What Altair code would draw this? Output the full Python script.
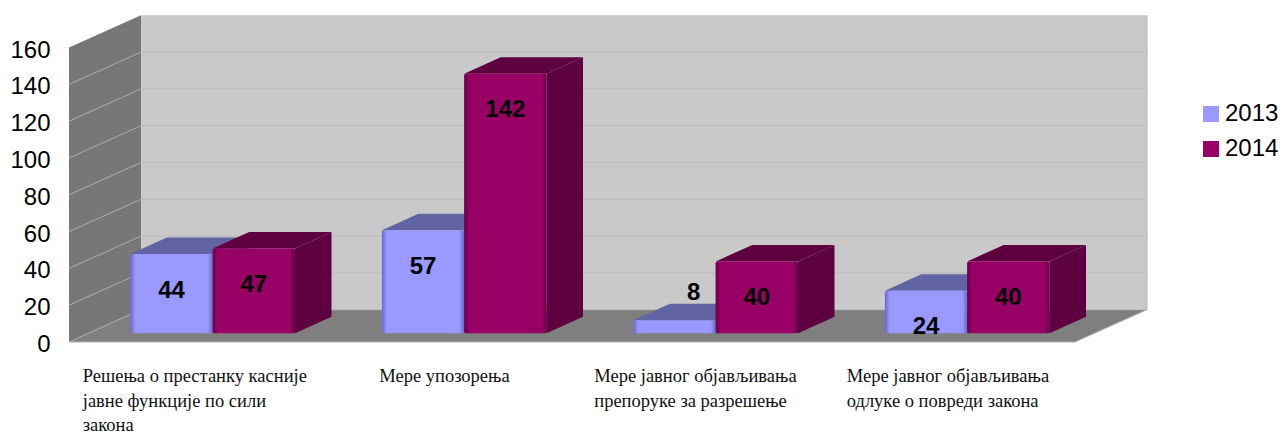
import altair as alt
import pandas as pd

# ---- data
categories = [
    "Решења о престанку касније\nјавне функције по сили\nзакона",
    "Мере упозорења",
    "Мере јавног објављивања\nпрепоруке за разрешење",
    "Мере јавног објављивања\nодлуке о повреди закона",
]
values_2013 = [44, 57, 8, 24]
values_2014 = [47, 142, 40, 40]
y_ticks = [0, 20, 40, 60, 80, 100, 120, 140, 160]
years = ["2013", "2014"]

# ---- colours
FRONT = {"2013": "#9999ff", "2014": "#990066"}
SHADE = {"2013": "#6263a3", "2014": "#5e0040"}
EDGE = {"2013": "70,70,170", "2014": "70,0,50"}

# ---- layout of the 3D box
PLOT_W, PLOT_H = 1078, 327
PX_CAT = 251.5                 # px per category along x
PX_VAL = 1.84                  # px per value along y
N = len(categories)
DX = 72 / PX_CAT               # floor depth, x component (category units)
DY = 32.3 / PX_VAL             # floor depth, y component (value units)
X_MAX = PLOT_W / PX_CAT
Y_MAX = PLOT_H / PX_VAL
BAR_L = 61.4 / PX_CAT
BAR_W = 82.3 / PX_CAT
BAR_DX = 36.5 / PX_CAT
BAR_DY = 16.5 / PX_VAL
BASE = 3.8                     # bar baseline raised by its place on the floor
FOOT = 4.7                     # visible bottom edge of the bars
LABEL_PX = [224, 134, 207, 205]  # width of each wrapped label block

rows_side, rows_top, fronts, texts = [], [], [], []
for i in range(N):
    for j, (yr, vals) in enumerate(zip(years, [values_2013, values_2014])):
        v = vals[i]
        left = i + BAR_L + j * BAR_W
        right = left + BAR_W
        top = v + BASE
        # top face
        for x, lo, hi in [(left, top, top), (left + BAR_DX, top, top + BAR_DY),
                          (right, top, top + BAR_DY), (right + BAR_DX, top + BAR_DY, top + BAR_DY)]:
            rows_top.append(dict(id=f"{i}-{yr}", year=yr, x=x, lo=lo, hi=hi))
        # side face
        for x, lo, hi in [(right, FOOT, top), (right + BAR_DX, FOOT + BAR_DY, top + BAR_DY)]:
            rows_side.append(dict(id=f"{i}-{yr}", year=yr, x=x, lo=lo, hi=hi))
        fronts.append(dict(year=yr, x=left, x2=right, lo=FOOT, hi=top))
        texts.append(dict(x=(left + right) / 2, y=top, t=str(v), low=v < 20))

top_df = pd.DataFrame(rows_top)
side_df = pd.DataFrame(rows_side)
front_df = pd.DataFrame(fronts)
text_df = pd.DataFrame(texts)

x_scale = alt.Scale(domain=[0, X_MAX], nice=False, zero=False)
y_scale = alt.Scale(domain=[0, Y_MAX], nice=False, zero=False)
# every layer carries the same axis so that Vega-Lite merges them into one
y_axis = alt.Axis(values=y_ticks, grid=False, domain=False, ticks=False, labelPadding=19,
                  labelOffset=2.5, labelFontSize=24, labelFont="Liberation Sans",
                  labelColor="#000000", title=None)
X = alt.X("x:Q", scale=x_scale, axis=None)
Y = alt.Y("hi:Q", scale=y_scale, axis=y_axis, title=None)
Y2 = alt.Y2("lo:Q")
Y_PLAIN = alt.Y("y:Q", scale=y_scale, axis=y_axis, title=None)


def area(df, fill):
    return alt.Chart(df).mark_area(orient="vertical", color=fill, opacity=1, strokeWidth=0).encode(
        x=X, y=Y, y2=Y2, detail="id:N")


# ---- box: back wall, left wall, floor
top_v = y_ticks[-1]
back = pd.DataFrame({"id": "b", "x": [DX, N + DX], "lo": [DY, DY], "hi": [top_v + DY, top_v + DY]})
wall = pd.DataFrame({"id": "w", "x": [0, DX], "lo": [0, DY], "hi": [top_v, top_v + DY]})
floor = pd.DataFrame({"id": "f", "x": [0, DX, N, N + DX], "lo": [0, 0, 0, DY], "hi": [0, DY, DY, DY]})

wall_rows, back_rows = [], []
for v in y_ticks[:-1]:
    for x, y in [(0, v), (DX, v + DY)]:
        wall_rows.append(dict(id=v, x=x, y=y))
    for x, y in [(DX, v + DY), (N + DX, v + DY)]:
        back_rows.append(dict(id=v, x=x, y=y))
grid_back = alt.Chart(pd.DataFrame(back_rows)).mark_line(color="#bababa", strokeWidth=1).encode(
    x=X, y=Y_PLAIN, detail="id:N")
grid_wall = alt.Chart(pd.DataFrame(wall_rows)).mark_line(color="#adadad", strokeWidth=1).encode(
    x=X, y=Y_PLAIN, detail="id:N")

outline_df = pd.DataFrame({
    "id": ["a", "a", "a", "a"],
    "x": [0, N, N + DX, N + DX],
    "y": [0, 0, DY, top_v + DY],
    "o": [0, 1, 2, 3],
})
outline = alt.Chart(outline_df).mark_line(color="#b4b4b4", strokeWidth=1).encode(
    x=X, y=Y_PLAIN, detail="id:N", order="o:Q")

# ---- bars
faces = []
for yr in years:
    faces.append(area(top_df[top_df.year == yr], SHADE[yr]))
    faces.append(area(side_df[side_df.year == yr], SHADE[yr]))

front = alt.Chart(front_df).mark_rect(cornerRadius=2, opacity=1).encode(
    x=X, x2="x2:Q", y=Y, y2=Y2,
    color=alt.Color("year:N", scale=alt.Scale(domain=years, range=[FRONT[y] for y in years]),
                    legend=alt.Legend(orient="none", legendX=1130, legendY=87, title=None,
                                      symbolType="square", symbolSize=256, symbolStrokeWidth=0,
                                      labelFontSize=24, labelFont="Liberation Sans", labelColor="#000000",
                                      rowPadding=11, labelOffset=2, symbolOpacity=1, labelLimit=200)),
)

glows = []
for yr in years:
    grad = alt.LinearGradient(gradient="linear", x1=0, x2=1, y1=0, y2=0, stops=[
        alt.GradientStop(color=f"rgba({EDGE[yr]},0.6)", offset=0),
        alt.GradientStop(color=f"rgba({EDGE[yr]},0)", offset=0.06),
        alt.GradientStop(color=f"rgba({EDGE[yr]},0)", offset=0.94),
        alt.GradientStop(color=f"rgba({EDGE[yr]},0.6)", offset=1),
    ])
    glows.append(alt.Chart(front_df[front_df.year == yr]).mark_rect(cornerRadius=2, fill=grad).encode(
        x=X, x2="x2:Q", y=Y, y2=Y2))

# ---- text
num_hi = alt.Chart(text_df[~text_df.low]).mark_text(
    font="Liberation Sans", fontSize=24, fontWeight="bold", color="#000000", dy=36.5, baseline="middle"
).encode(x=X, y=Y_PLAIN, text="t:N")
num_lo = alt.Chart(text_df[text_df.low]).mark_text(
    font="Liberation Sans", fontSize=24, fontWeight="bold", color="#000000", dx=19, dy=-27, baseline="middle"
).encode(x=X, y=Y_PLAIN, text="t:N")

cat_df = pd.DataFrame({
    "t": categories,
    "x": [i + 0.5 - w / 2 / PX_CAT for i, w in enumerate(LABEL_PX)],
    "y": [0] * N,
})
cat_text = alt.Chart(cat_df).mark_text(
    font="Liberation Serif", fontSize=18.5, color="#111111", align="left", baseline="top",
    lineBreak="\n", lineHeight=24.5, dy=25
).encode(x=X, y=Y_PLAIN, text="t:N")

chart = alt.layer(
    area(back, "#c9c9c9"), area(wall, "#777777"), area(floor, "#7f7f7f"), grid_back, grid_wall, outline,
    *faces, front, *glows, num_hi, num_lo, cat_text,
).properties(
    width=PLOT_W, height=PLOT_H,
    padding={"left": 61, "top": 7, "right": 132, "bottom": 91},
    autosize=alt.AutoSizeParams(type="none"),
    background="#ffffff",
).configure_view(strokeWidth=0)

chart.save("out.html", embed_options={"renderer": "svg", "actions": False})
